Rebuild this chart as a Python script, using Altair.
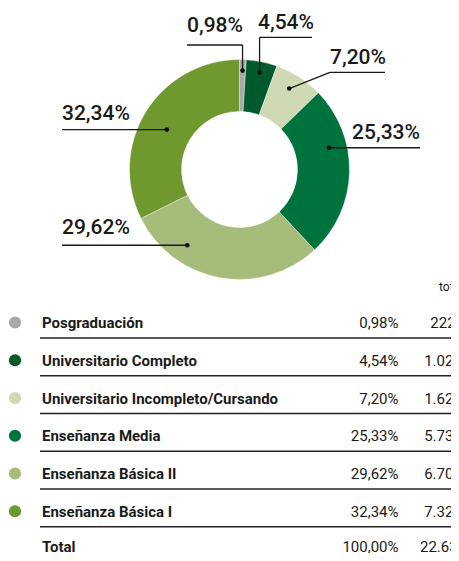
import altair as alt
import pandas as pd
import math

# ---------------- data ----------------
categories = [
    "Posgraduación",
    "Universitario Completo",
    "Universitario Incompleto/Cursando",
    "Enseñanza Media",
    "Enseñanza Básica II",
    "Enseñanza Básica I",
]
percent = [0.98, 4.54, 7.20, 25.33, 29.62, 32.34]
percent_labels = ["0,98%", "4,54%", "7,20%", "25,33%", "29,62%", "32,34%"]
total_labels = ["222", "1.027", "1.629", "5.733", "6.704", "7.320"]
total_row = ["Total", "100,00%", "22.635"]
header_label = "total"
colors = ["#a7a9ac", "#005a2b", "#cfdab4", "#00733d", "#a5bc7b", "#6f982e"]

# ---------------- layout (page pixel positions) ----------------
W, H = 443, 545
CX, CY = 239.5, 169.5    # donut centre (page coords)
R_OUT, R_IN = 110, 58
dot_frac = [0.5, 0.5, 0.45, 0.335, 0.728, 0.474]   # where the dot sits inside its slice
dot_r = [99, 99, 95, 92, 92, 83]
elbow_x = [None, None, 330, None, None, None]        # None -> same as dot
elbow_y = [45, 37.3, 72.3, None, None, None]
far_x = [187, 312, 385, 420, 62, 62]
text_x = [187, 258, 330, 420, 62, 62]
text_y = [32, 28.5, 63.5, 138.5, 233.5, 119.5]
text_align = ["left", "left", "left", "right", "left", "left"]

ROW0, ROW_STEP = 322.5, 37.75
TOTAL_Y = 546.5
PCT_X = 398.5
TOT_X = 443
FONT_NUM = "Roboto"
FONT_TAB = "Roboto"
FS_TAB = 15

# ---------------- derived tables ----------------
total = sum(percent)
cum = 0.0
rows = []
for i, (c, p) in enumerate(zip(categories, percent)):
    a = (cum + p * dot_frac[i]) / total * 2 * math.pi
    cum += p
    dx = CX + dot_r[i] * math.sin(a)
    dy = CY - dot_r[i] * math.cos(a)
    ex = dx if elbow_x[i] is None else elbow_x[i]
    ey = dy if elbow_y[i] is None else elbow_y[i]
    rows.append(dict(idx=i, cat=c, pct=p, lab=percent_labels[i], dot_x=dx, dot_y=dy,
                     ex=ex, ey=ey, fx=far_x[i], tx=text_x[i], ty=text_y[i],
                     align=text_align[i], tot=total_labels[i],
                     row_y=ROW0 + ROW_STEP * i))
df = pd.DataFrame(rows)
df_total = pd.DataFrame([dict(name=total_row[0], pcts=total_row[1], tot=total_row[2],
                              row_y=TOTAL_Y)])
df_head = pd.DataFrame([dict(t=header_label, x=439, y=291)])

xs = alt.Scale(domain=[8, 8 + W], range=[0, W], nice=False, zero=False)
ys = alt.Scale(domain=[8, 8 + H], range=[0, H], nice=False, zero=False)
color = alt.Color("cat:N", scale=alt.Scale(domain=categories, range=colors), legend=None)

base = alt.Chart(df)

donut = base.mark_arc(outerRadius=R_OUT, innerRadius=R_IN, stroke="white", strokeWidth=0.4).encode(
    theta=alt.Theta("pct:Q", stack=True),
    order=alt.Order("idx:Q"),
    color=color,
    x=alt.value(CX - 8),
    y=alt.value(CY - 8),
)

seg_h = base.mark_rule(color="#1a1a1a", strokeWidth=1.3).encode(
    x=alt.X("fx:Q", scale=xs, axis=None), x2="ex:Q",
    y=alt.Y("ey:Q", scale=ys, axis=None), y2="ey:Q",
)
seg_d = base.mark_rule(color="#1a1a1a", strokeWidth=1.3).encode(
    x=alt.X("ex:Q", scale=xs, axis=None), x2="dot_x:Q",
    y=alt.Y("ey:Q", scale=ys, axis=None), y2="dot_y:Q",
)
dots = base.mark_circle(color="#111111", opacity=1, size=22).encode(
    x=alt.X("dot_x:Q", scale=xs, axis=None),
    y=alt.Y("dot_y:Q", scale=ys, axis=None),
)
lab_l = base.transform_filter(alt.datum.align == "left").mark_text(
    align="left", baseline="alphabetic", font=FONT_NUM, fontSize=21, fontWeight=500, color="#1a1a1a"
).encode(x=alt.X("tx:Q", scale=xs, axis=None), y=alt.Y("ty:Q", scale=ys, axis=None), text="lab:N")
lab_r = base.transform_filter(alt.datum.align == "right").mark_text(
    align="right", baseline="alphabetic", font=FONT_NUM, fontSize=21, fontWeight=500, color="#1a1a1a"
).encode(x=alt.X("tx:Q", scale=xs, axis=None), y=alt.Y("ty:Q", scale=ys, axis=None), text="lab:N")

# ---------------- table ----------------
tb = base.transform_calculate(lx0=str(40), lx1=str(8 + W), ly="datum.row_y + 15.5",
                              cx0=str(15), nx=str(42), px=str(PCT_X), qx=str(TOT_X),
                              by="datum.row_y + 5.5")
bullets = tb.mark_circle(size=150, opacity=1).encode(
    x=alt.X("cx0:Q", scale=xs, axis=None), y=alt.Y("row_y:Q", scale=ys, axis=None), color=color)
rules = tb.mark_rule(color="#222222", strokeWidth=1.4).encode(
    x=alt.X("lx0:Q", scale=xs, axis=None), x2="lx1:Q",
    y=alt.Y("ly:Q", scale=ys, axis=None))
names = tb.mark_text(align="left", baseline="alphabetic", font=FONT_TAB, fontSize=FS_TAB,
                     fontWeight="bold", color="#1a1a1a").encode(
    x=alt.X("nx:Q", scale=xs, axis=None), y=alt.Y("by:Q", scale=ys, axis=None), text="cat:N")
pcts = tb.mark_text(align="right", baseline="alphabetic", font=FONT_TAB, fontSize=FS_TAB,
                    color="#1a1a1a").encode(
    x=alt.X("px:Q", scale=xs, axis=None), y=alt.Y("by:Q", scale=ys, axis=None), text="lab:N")
tots = tb.mark_text(align="center", baseline="alphabetic", font=FONT_TAB, fontSize=FS_TAB,
                    color="#1a1a1a").encode(
    x=alt.X("qx:Q", scale=xs, axis=None), y=alt.Y("by:Q", scale=ys, axis=None), text="tot:N")

tt = alt.Chart(df_total).transform_calculate(nx=str(42), px=str(PCT_X), qx=str(TOT_X),
                                             by="datum.row_y + 5.5")
t_name = tt.mark_text(align="left", baseline="alphabetic", font=FONT_TAB, fontSize=FS_TAB,
                      fontWeight="bold", color="#1a1a1a").encode(
    x=alt.X("nx:Q", scale=xs, axis=None), y=alt.Y("by:Q", scale=ys, axis=None), text="name:N")
t_pct = tt.mark_text(align="right", baseline="alphabetic", font=FONT_TAB, fontSize=FS_TAB,
                     color="#1a1a1a").encode(
    x=alt.X("px:Q", scale=xs, axis=None), y=alt.Y("by:Q", scale=ys, axis=None), text="pcts:N")
t_tot = tt.mark_text(align="center", baseline="alphabetic", font=FONT_TAB, fontSize=FS_TAB,
                     color="#1a1a1a").encode(
    x=alt.X("qx:Q", scale=xs, axis=None), y=alt.Y("by:Q", scale=ys, axis=None), text="tot:N")
head = alt.Chart(df_head).mark_text(align="left", baseline="alphabetic", font=FONT_TAB,
                                    fontSize=12, color="#1a1a1a").encode(
    x=alt.X("x:Q", scale=xs, axis=None), y=alt.Y("y:Q", scale=ys, axis=None), text="t:N")

chart = alt.layer(
    donut, seg_h, seg_d, dots, lab_l, lab_r,
    rules, bullets, names, pcts, tots, t_name, t_pct, t_tot, head,
).properties(
    width=W, height=H, padding=0,
    autosize=alt.AutoSizeParams(type="none"),
).configure_view(stroke=None)

chart.save("out.html", embed_options={"renderer": "svg", "actions": False})
